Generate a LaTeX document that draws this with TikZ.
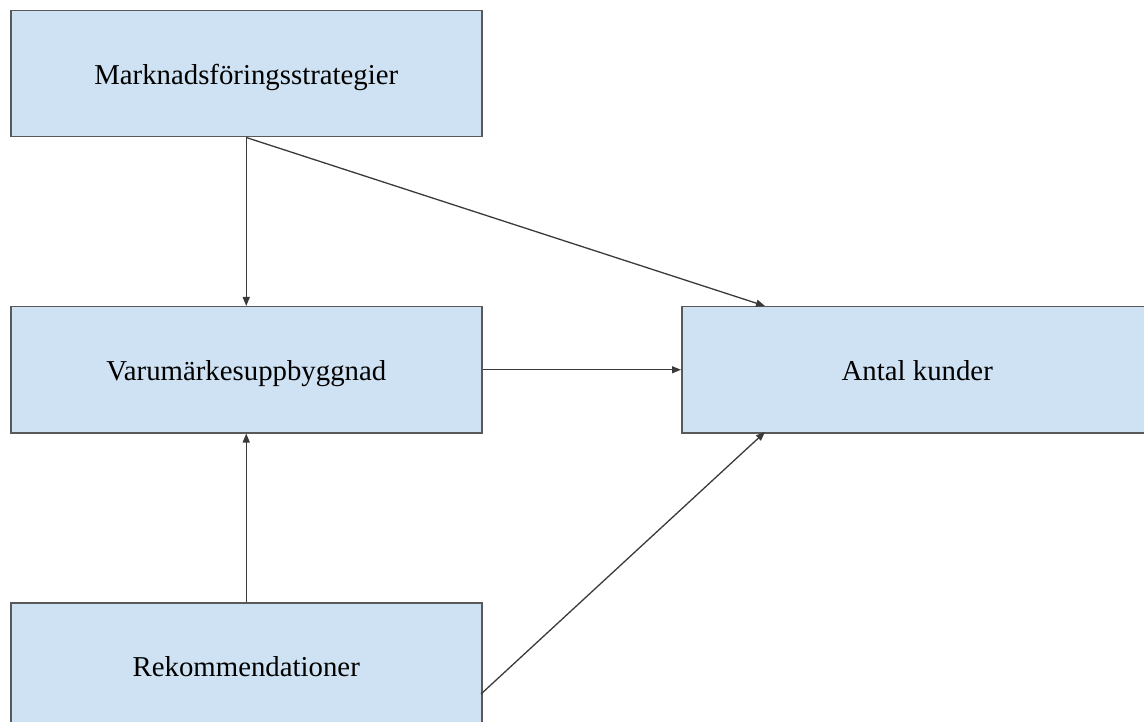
\documentclass[tikz,border=0pt]{standalone}
\usepackage{fontspec}
\setmainfont{Liberation Serif}
\usetikzlibrary{arrows.meta,positioning}
\definecolor{boxblue}{HTML}{CFE2F3}
\definecolor{boxline}{HTML}{595959}
\definecolor{arrline}{HTML}{3A3A3A}

\begin{document}
\begin{tikzpicture}[x=1pt,y=-1pt]
 \tikzset{main node/.style={rectangle, draw=boxline, fill=boxblue,
 		line width=1.5pt, text centered, anchor=north west,
 		minimum width=471pt, minimum height=126pt, inner sep=0pt,
 		text height=21pt, text depth=0pt,
 		font=\fontsize{28.8}{34}\selectfont}, }
 \tikzset{linea/.style={-{Triangle[length=9pt,width=7pt]},
 		color=arrline, line width=1.3pt},}
 \useasboundingbox (0,0) rectangle (1144,722);
 \clip (0,0) rectangle (1144,722);
 \node[main node] (strat) at (10,10) {Marknadsföringsstrategier};
 \node[main node] (varu) at (10,306) {Varumärkesuppbyggnad};
 \node[main node] (rek) at (10,602) {Rekommendationer};
 \node[main node] (kund) at (681,306) {Antal kunder};
 \coordinate (kundtop) at (765,306);
 \coordinate (kundbot) at (765,432);
 \coordinate (rekside) at (481,694);
 \path[linea] (strat.south) edge (varu.north);
 \path[linea] (strat.south) edge (kundtop);
 \path[linea] (varu.east) edge (kund.west);
 \path[linea] (rek.north) edge (varu.south);
 \path[linea] (rekside) edge (kundbot);
 %
\end{tikzpicture}
\end{document}
